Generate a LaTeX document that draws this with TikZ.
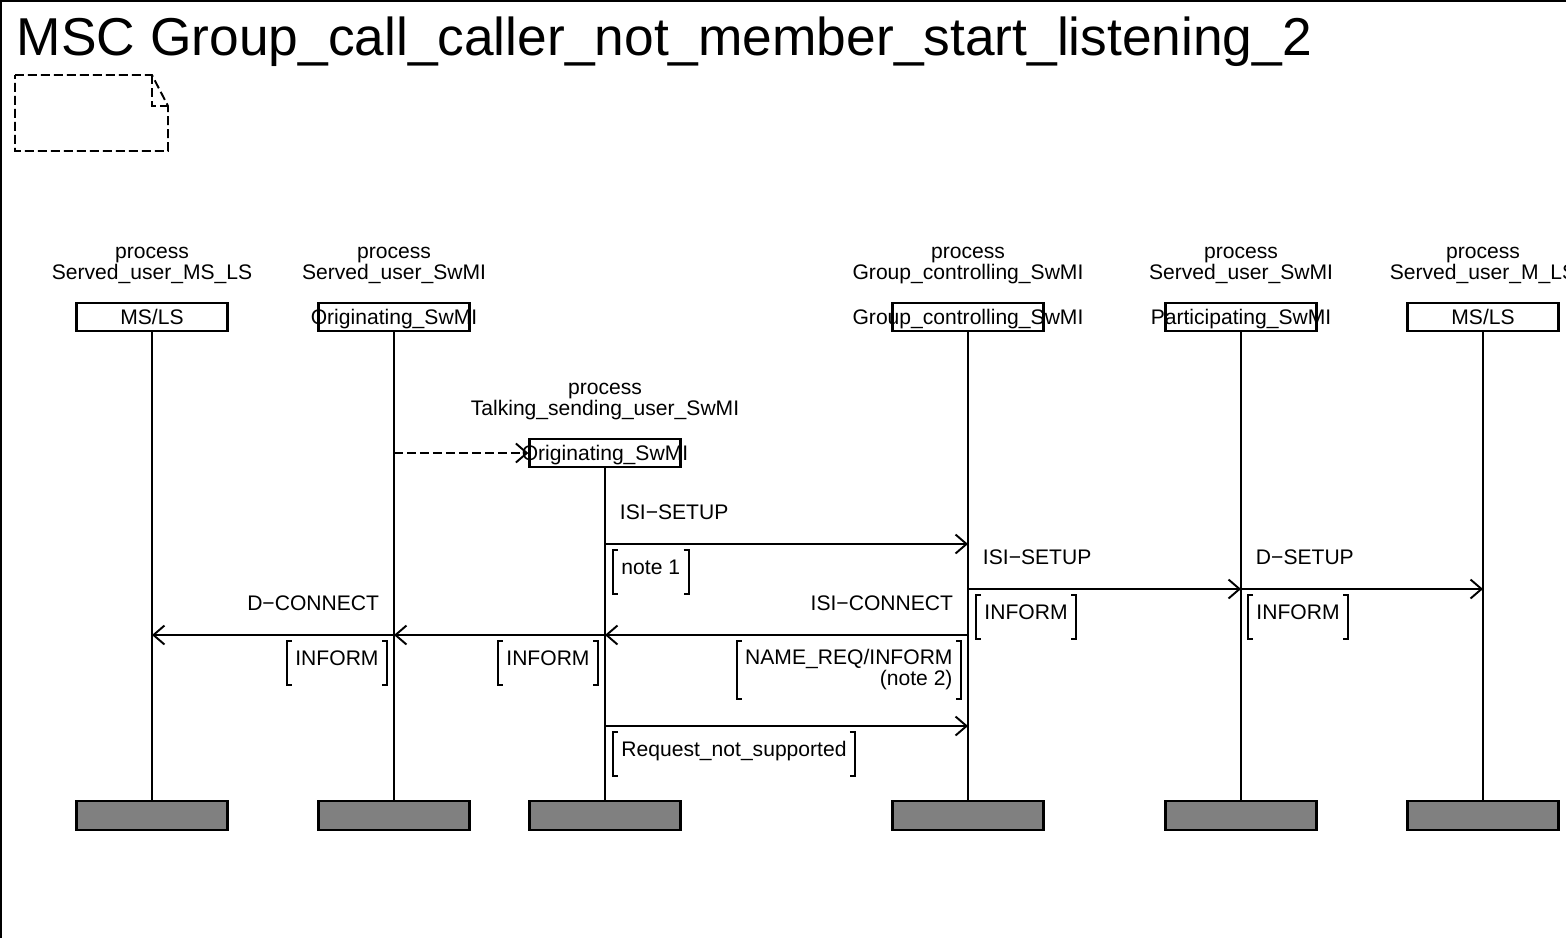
\documentclass[tikz,border=0pt]{standalone}
\usepackage{fontspec}
\setmainfont{Liberation Sans}
\usetikzlibrary{arrows.meta, positioning, calc}

\begin{document}
\begin{tikzpicture}[
    x=0.02cm, y=-0.02cm,
    font=\fontsize{12}{11.9}\selectfont,
    line width=1.1pt,
    every label/.style={inner sep=0, text height=0.72em, text depth=0pt, yshift=-0.02cm},
    headbox/.style={
      draw,
      line width=1.3pt,
      minimum width=3.02cm,
      minimum height=0.56cm,
      inner sep=0
    },
    endbox/.style={
      draw,
      fill=gray,
      line width=1.3pt,
      minimum width=3.02cm,
      minimum height=0.58cm,
      inner sep=0
    },
    procname/.style={align=center, inner sep=0, anchor=south},
    msg/.style={-{Straight Barb[length=0.22cm, width=0.38cm]}},
    create/.style={msg, dash pattern=on 0.18cm off 0.08cm},
    msglabel/.style={inner sep=0},
    cond/.style={
      inner xsep=0.15cm,
      inner ysep=0,
      minimum height=0.84cm,
      text height=0.72em,
      text depth=0.45em,
      append after command={\pgfextra{
        \draw[line width=1.1pt] ([xshift=0.1cm]\tikzlastnode.north west) -- (\tikzlastnode.north west)
          -- (\tikzlastnode.south west) -- ([xshift=0.1cm]\tikzlastnode.south west);
        \draw[line width=1.1pt] ([xshift=-0.1cm]\tikzlastnode.north east) -- (\tikzlastnode.north east)
          -- (\tikzlastnode.south east) -- ([xshift=-0.1cm]\tikzlastnode.south east);}}
    }
]
\useasboundingbox (0,0) rectangle (1566,938);
% frame and title
\draw (1,938) -- (1,1) -- (1566,1);
\node[anchor=base west, inner sep=0, font=\fontsize{30.35}{36}\selectfont] (title) at (16,55) {MSC Group\_call\_caller\_not\_member\_start\_listening\_2};
\draw[dash pattern=on 0.18cm off 0.08cm] (15,75) -- (152,75) -- (168,106) -- (168,151) -- (15,151) -- cycle;
\draw[dash pattern=on 0.18cm off 0.08cm] (152,75) -- (152,106) -- (168,106);

% process names
\node[procname] (msAproc) at (152,285) {process\\Served\_user\_MS\_LS};
\node[procname] (origproc) at (394,285) {process\\Served\_user\_SwMI};
\node[procname] (talkproc) at (605,421) {process\\Talking\_sending\_user\_SwMI};
\node[procname] (grpproc) at (968,285) {process\\Group\_controlling\_SwMI};
\node[procname] (partproc) at (1241,285) {process\\Served\_user\_SwMI};
\node[procname] (msBproc) at (1483,285) {process\\Served\_user\_M\_LS};

% instance heads
\node[headbox, label=center:MS/LS] (msA) at (152,317) {};
\node[headbox, label=center:Originating\_SwMI] (orig) at (394,317) {};
\node[headbox, label=center:Originating\_SwMI] (talk) at (605,453) {};
\node[headbox, label=center:Group\_controlling\_SwMI] (grp) at (968,317) {};
\node[headbox, label=center:Participating\_SwMI] (part) at (1241,317) {};
\node[headbox, label=center:MS/LS] (msB) at (1483,317) {};

% instance ends
\node[endbox] (msAend) at (152,815.5) {};
\node[endbox] (origend) at (394,815.5) {};
\node[endbox] (talkend) at (605,815.5) {};
\node[endbox] (grpend) at (968,815.5) {};
\node[endbox] (partend) at (1241,815.5) {};
\node[endbox] (msBend) at (1483,815.5) {};

% lifelines
\draw (msA) -- (msAend);
\draw (orig) -- (origend);
\draw (talk) -- (talkend);
\draw (grp) -- (grpend);
\draw (part) -- (partend);
\draw (msB) -- (msBend);

% create
\draw[create] (orig |- talk) -- (talk.west);

% message levels
\coordinate (m1) at (0,544);
\coordinate (m2) at (0,589);
\coordinate (m3) at (0,635);
\coordinate (m4) at (0,726);

% ISI-SETUP
\draw[msg] (talk |- m1) -- (grp |- m1);
\node[msglabel, anchor=base west] (isisetupA) at ($(talk |- m1)+(14,-25)$) {ISI−SETUP};
\node[cond, anchor=north west] (note1) at ($(talk |- m1)+(8,6)$) {note 1};

% ISI-SETUP and D-SETUP
\draw[msg] (grp |- m2) -- (part |- m2);
\draw[msg] (part |- m2) -- (msB |- m2);
\node[msglabel, anchor=base west] (isisetupB) at ($(grp |- m2)+(14,-25)$) {ISI−SETUP};
\node[msglabel, anchor=base west] (dsetup) at ($(part |- m2)+(14,-25)$) {D−SETUP};
\node[cond, anchor=north west] (informA) at ($(grp |- m2)+(8,6)$) {INFORM};
\node[cond, anchor=north west] (informB) at ($(part |- m2)+(7,6)$) {INFORM};

% ISI-CONNECT and D-CONNECT
\draw[msg] (grp |- m3) -- (talk |- m3);
\draw[msg] (talk |- m3) -- (orig |- m3);
\draw[msg] (orig |- m3) -- (msA |- m3);
\node[msglabel, anchor=base east] (isiconnect) at ($(grp |- m3)+(-14,-25)$) {ISI−CONNECT};
\node[msglabel, anchor=base east] (dconnect) at ($(orig |- m3)+(-14,-25)$) {D−CONNECT};
\node[cond, anchor=north east, align=right, text height={}, text depth={}, minimum height=1.12cm] (namereq) at ($(grp |- m3)+(-7,6)$) {NAME\_REQ/INFORM\\(note 2)};
\node[cond, anchor=north east] (informC) at ($(talk |- m3)+(-7,6)$) {INFORM};
\node[cond, anchor=north east] (informD) at ($(orig |- m3)+(-7,6)$) {INFORM};

% not supported
\draw[msg] (talk |- m4) -- (grp |- m4);
\node[cond, anchor=north west] (notsupp) at ($(talk |- m4)+(8,6)$) {Request\_not\_supported};
\end{tikzpicture}
\end{document}
